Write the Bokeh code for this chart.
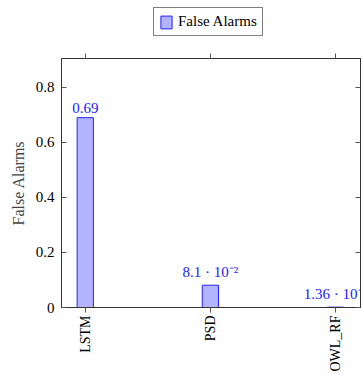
from bokeh.plotting import figure
from bokeh.layouts import column
from bokeh.models import Range1d, FixedTicker, LinearAxis, Legend, LegendItem, ColumnDataSource
from bokeh.core.properties import value
from bokeh.embed import file_html
from bokeh.resources import INLINE
import math

categories = ["LSTM", "PSD", "OWL_RF"]
false_alarms = [0.69, 0.081, 0.00136]
bar_labels = ["0.69", "8.1 · 10⁻²", "1.36 · 10⁻³"]
y_ticks = [0, 0.2, 0.4, 0.6, 0.8]
y_tick_labels = ["0", "0.2", "0.4", "0.6", "0.8"]
series_name = "False Alarms"

FONT = "Liberation Serif"
BAR_FILL = "#b3b3ff"
BAR_LINE = "#2222ff"
xs = list(range(len(categories)))
src = ColumnDataSource(dict(x=xs, y=false_alarms, lab=bar_labels))

# ---- legend strip above the axes (series drawn out of view, only its legend shows) ----
top = figure(width=362, height=50, output_backend="svg", toolbar_location=None,
             x_range=Range1d(100, 101), y_range=Range1d(100, 101),
             min_border_left=0, min_border_right=0, min_border_top=0, min_border_bottom=0)
top.axis.visible = False
top.grid.visible = False
top.outline_line_color = None
top.background_fill_color = "white"
top.border_fill_color = "white"
proxy = top.vbar(x="x", top="y", source=src, width=0.13, fill_color=BAR_FILL, line_color=BAR_LINE, line_width=1)
legend = Legend(items=[LegendItem(label=series_name, renderers=[proxy])],
                location=(92, 14), orientation="horizontal",
                label_text_font=FONT, label_text_font_size="15px", label_text_color="black",
                border_line_color="black", border_line_width=1, background_fill_alpha=1,
                padding=5, margin=0, glyph_width=14, glyph_height=16, label_standoff=5,
                label_height=16, spacing=0)
top.add_layout(legend, "center")

# ---- main chart ----
p = figure(width=362, height=324, output_backend="svg", toolbar_location=None,
           x_range=Range1d(-0.19, 2.2), y_range=Range1d(0, 0.905),
           min_border_left=61, min_border_right=2, min_border_top=8, min_border_bottom=67)
p.background_fill_color = "white"
p.border_fill_color = "white"
p.outline_line_color = "#333333"
p.outline_line_width = 1
p.grid.visible = False

r = p.vbar(x="x", top="y", width=0.13, source=src, fill_color=BAR_FILL, line_color=BAR_LINE, line_width=1)
p.text(x="x", y="y", text="lab", source=src, text_align="center", text_baseline="bottom",
       y_offset=-5, text_color="#1a1aff", text_font=value(FONT), text_font_size="15px")

xa = p.xaxis[0]
xa.ticker = FixedTicker(ticks=xs)
xa.major_label_overrides = {i: c for i, c in enumerate(categories)}
xa.major_label_orientation = math.pi / 2
xa.major_label_text_font = FONT
xa.major_label_text_font_size = "14px"
xa.major_label_text_color = "black"
xa.major_tick_in = 0
xa.major_tick_out = 5
xa.minor_tick_line_color = None
xa.axis_line_color = "#333333"
xa.major_tick_line_color = "#555555"
xa.major_label_standoff = 3

ya = p.yaxis[0]
ya.ticker = FixedTicker(ticks=y_ticks)
ya.major_label_overrides = {t: l for t, l in zip(y_ticks, y_tick_labels)}
ya.major_label_text_font = FONT
ya.major_label_text_font_size = "15px"
ya.major_label_text_color = "black"
ya.major_tick_in = 5
ya.major_tick_out = 0
ya.minor_tick_line_color = None
ya.axis_line_color = "#333333"
ya.major_tick_line_color = "#555555"
ya.axis_label = series_name
ya.axis_label_text_font = FONT
ya.axis_label_text_font_style = "normal"
ya.axis_label_text_font_size = "16px"
ya.axis_label_standoff = 6
ya.major_label_standoff = 7

ra = LinearAxis(ticker=FixedTicker(ticks=y_ticks), major_label_text_font_size="1px",
                major_label_text_alpha=0,
                major_tick_in=5, major_tick_out=0, minor_tick_line_color=None,
                axis_line_color="#333333", major_tick_line_color="#555555", major_label_standoff=0)
p.add_layout(ra, "right")
ta = LinearAxis(ticker=FixedTicker(ticks=xs), major_label_text_font_size="1px",
                major_label_text_alpha=0,
                major_tick_in=0, major_tick_out=5, minor_tick_line_color=None,
                axis_line_color="#333333", major_tick_line_color="#555555", major_label_standoff=0)
p.add_layout(ta, "above")

layout = column(top, p, spacing=0)
open("out.html", "w").write(file_html(layout, INLINE))
